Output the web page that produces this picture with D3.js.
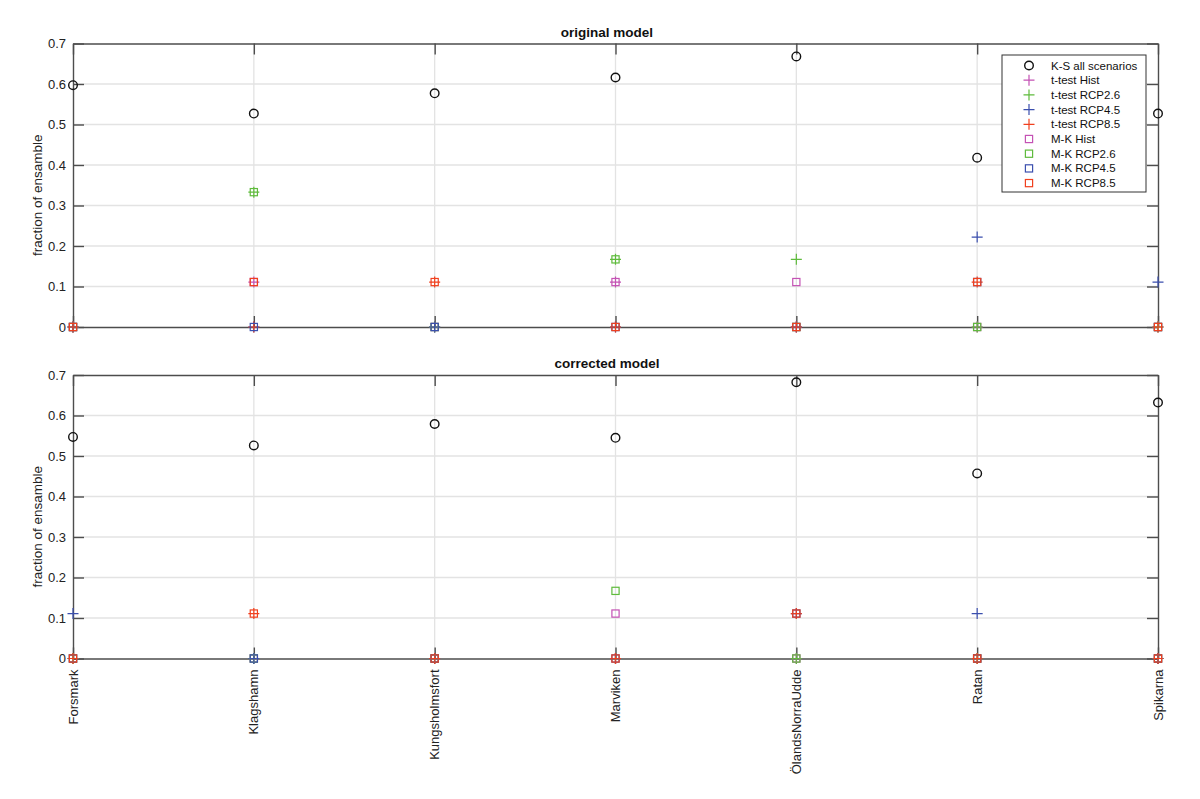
<!DOCTYPE html>
<html>
<head>
<meta charset="utf-8">
<script src="https://cdn.jsdelivr.net/npm/d3@7"></script>
<style>
  body { margin: 0; background: #fff; }
  svg { font-family: "Liberation Sans", Arial, Helvetica, sans-serif; }
</style>
</head>
<body>
<script>
// stations along the x axis
const stations = ["Forsmark", "Klagshamn", "Kungsholmsfort", "Marviken", "ÖlandsNorraUdde", "Ratan", "Spikarna"]
const yTicks = [0, 0.1, 0.2, 0.3, 0.4, 0.5, 0.6, 0.7]

// original model
const origKS      = [0.597, 0.527, 0.577, 0.616, 0.668, 0.418, 0.527]
const origTHist   = [0, 0.111, 0, 0.111, 0, 0, 0]
const origT26     = [0, 0.333, 0, 0.167, 0.167, 0, 0]
const origT45     = [0, 0, 0, 0, 0, 0.222, 0.111]
const origT85     = [0, 0, 0.111, 0, 0, 0.111, 0]
const origMKHist  = [0, 0.111, 0, 0.111, 0.111, 0, 0]
const origMK26    = [0, 0.333, 0, 0.167, 0, 0, 0]
const origMK45    = [0, 0, 0, 0, 0, 0.111, 0]
const origMK85    = [0, 0.111, 0.111, 0, 0, 0.111, 0]

// corrected model
const corrKS      = [0.547, 0.526, 0.579, 0.545, 0.682, 0.457, 0.632]
const corrTHist   = [0, 0, 0, 0, 0, 0, 0]
const corrT26     = [0, 0, 0, 0, 0, 0, 0]
const corrT45     = [0.111, 0, 0, 0, 0.111, 0.111, 0]
const corrT85     = [0, 0.111, 0, 0, 0.111, 0, 0]
const corrMKHist  = [0, 0, 0, 0.111, 0, 0, 0]
const corrMK26    = [0, 0, 0, 0.167, 0, 0, 0]
const corrMK45    = [0, 0, 0, 0, 0.111, 0, 0]
const corrMK85    = [0, 0.111, 0, 0, 0.111, 0, 0]

const seriesNames  = ["K-S all scenarios", "t-test Hist", "t-test RCP2.6", "t-test RCP4.5", "t-test RCP8.5", "M-K Hist", "M-K RCP2.6", "M-K RCP4.5", "M-K RCP8.5"]
const seriesColors = ["#111111", "#c452b4", "#5fbb3c", "#3b4fae", "#f0401e", "#c452b4", "#5fbb3c", "#3b4fae", "#f0401e"]
const seriesShapes = ["circle", "plus", "plus", "plus", "plus", "square", "square", "square", "square"]

const panels = [
  { title: "original model", top: 43.5, bottom: 327, values: [origKS, origTHist, origT26, origT45, origT85, origMKHist, origMK26, origMK45, origMK85] },
  { title: "corrected model", top: 375, bottom: 658.5, values: [corrKS, corrTHist, corrT26, corrT45, corrT85, corrMKHist, corrMK26, corrMK45, corrMK85] }
]

const width = 1200
const height = 799
const margin = ({ left: 73, right: 42 })
const axisColor = "#4d4d4d"
const gridColor = "#e3e3e3"

const svg = d3.select("body").append("svg")
    .attr("width", width)
    .attr("height", height)

const x = d3.scalePoint()
    .domain(stations)
    .range([margin.left, width - margin.right])

const drawMarker = (g, shape, color) => {
    if (shape === "circle") {
        g.append("circle").attr("r", 4.3)
            .attr("fill", "none").attr("stroke", color).attr("stroke-width", 1.4)
    } else if (shape === "plus") {
        g.append("path").attr("d", "M-5.5,0H5.5M0,-5.5V5.5")
            .attr("fill", "none").attr("stroke", color).attr("stroke-width", 1.2)
    } else {
        g.append("rect").attr("x", -3.6).attr("y", -3.6).attr("width", 7.2).attr("height", 7.2)
            .attr("fill", "none").attr("stroke", color).attr("stroke-width", 1.2)
    }
}

panels.forEach((p, pi) => {
    const y = d3.scaleLinear()
        .domain([0, 0.7])
        .range([p.bottom, p.top])

    const g = svg.append("g")

    // grid
    g.append("g").selectAll("line.h")
        .data(yTicks.slice(1, -1))
        .join("line")
        .attr("x1", margin.left).attr("x2", width - margin.right)
        .attr("y1", d => y(d)).attr("y2", d => y(d))
        .attr("stroke", gridColor).attr("stroke-width", 1.3)
    g.append("g").selectAll("line.v")
        .data(stations.slice(1, -1))
        .join("line")
        .attr("x1", d => x(d)).attr("x2", d => x(d))
        .attr("y1", p.top).attr("y2", p.bottom)
        .attr("stroke", gridColor).attr("stroke-width", 1.3)

    // axes, ticks inward like the original
    const yLeft = g.append("g")
        .attr("transform", `translate(${margin.left},0)`)
        .call(d3.axisLeft(y).tickValues(yTicks).tickFormat(d3.format("")).tickSizeInner(-11).tickSizeOuter(0).tickPadding(7))
    const yRight = g.append("g")
        .attr("transform", `translate(${width - margin.right},0)`)
        .call(d3.axisRight(y).tickValues(yTicks).tickFormat("").tickSizeInner(-11).tickSizeOuter(0))
    const xBottom = g.append("g")
        .attr("transform", `translate(0,${p.bottom})`)
        .call(d3.axisBottom(x).tickFormat("").tickSizeInner(-11).tickSizeOuter(0))
    const xTop = g.append("g")
        .attr("transform", `translate(0,${p.top})`)
        .call(d3.axisTop(x).tickFormat("").tickSizeInner(-11).tickSizeOuter(0))

    ;[yLeft, yRight, xBottom, xTop].forEach(a => {
        a.selectAll("path.domain").attr("stroke", axisColor).attr("stroke-width", 1.4)
        a.selectAll(".tick line").attr("stroke", axisColor).attr("stroke-width", 1.4)
    })
    yLeft.selectAll(".tick text")
        .attr("font-size", 13).attr("fill", "#222")

    // title
    g.append("text")
        .attr("x", 607).attr("y", p.top - 7)
        .attr("text-anchor", "middle")
        .attr("font-size", 13.5).attr("font-weight", "bold").attr("fill", "#111")
        .text(p.title)

    // y label
    g.append("text")
        .attr("transform", `translate(42,${(p.top + p.bottom) / 2 + 10}) rotate(-90)`)
        .attr("text-anchor", "middle")
        .attr("font-size", 13.5).attr("fill", "#222")
        .text("fraction of ensamble")

    // markers, drawn in legend order
    p.values.forEach((vals, si) => {
        const sg = g.append("g")
        sg.selectAll("g")
            .data(vals.map((v, i) => [stations[i], v]))
            .join("g")
            .attr("transform", d => `translate(${x(d[0])},${y(d[1])})`)
            .each(function () { drawMarker(d3.select(this), seriesShapes[si], seriesColors[si]) })
    })

    // station labels under the lower panel
    if (pi === panels.length - 1) {
        g.append("g").selectAll("text")
            .data(stations)
            .join("text")
            .attr("transform", d => `translate(${x(d)},${p.bottom + 11}) rotate(-90)`)
            .attr("text-anchor", "end")
            .attr("dy", "0.35em")
            .attr("font-size", 13).attr("fill", "#222")
            .text(d => d)
    }
})

// legend
const legend = svg.append("g").attr("transform", "translate(1002,55)")
legend.append("rect")
    .attr("width", 144).attr("height", 137)
    .attr("fill", "#fff").attr("stroke", "#333").attr("stroke-width", 1)
seriesNames.forEach((name, i) => {
    const row = legend.append("g").attr("transform", `translate(27,${10.5 + i * 14.7})`)
    drawMarker(row, seriesShapes[i], seriesColors[i])
    row.append("text")
        .attr("x", 22).attr("dy", "0.35em")
        .attr("font-size", 11.5).attr("fill", "#111")
        .text(name)
})
</script>
</body>
</html>
